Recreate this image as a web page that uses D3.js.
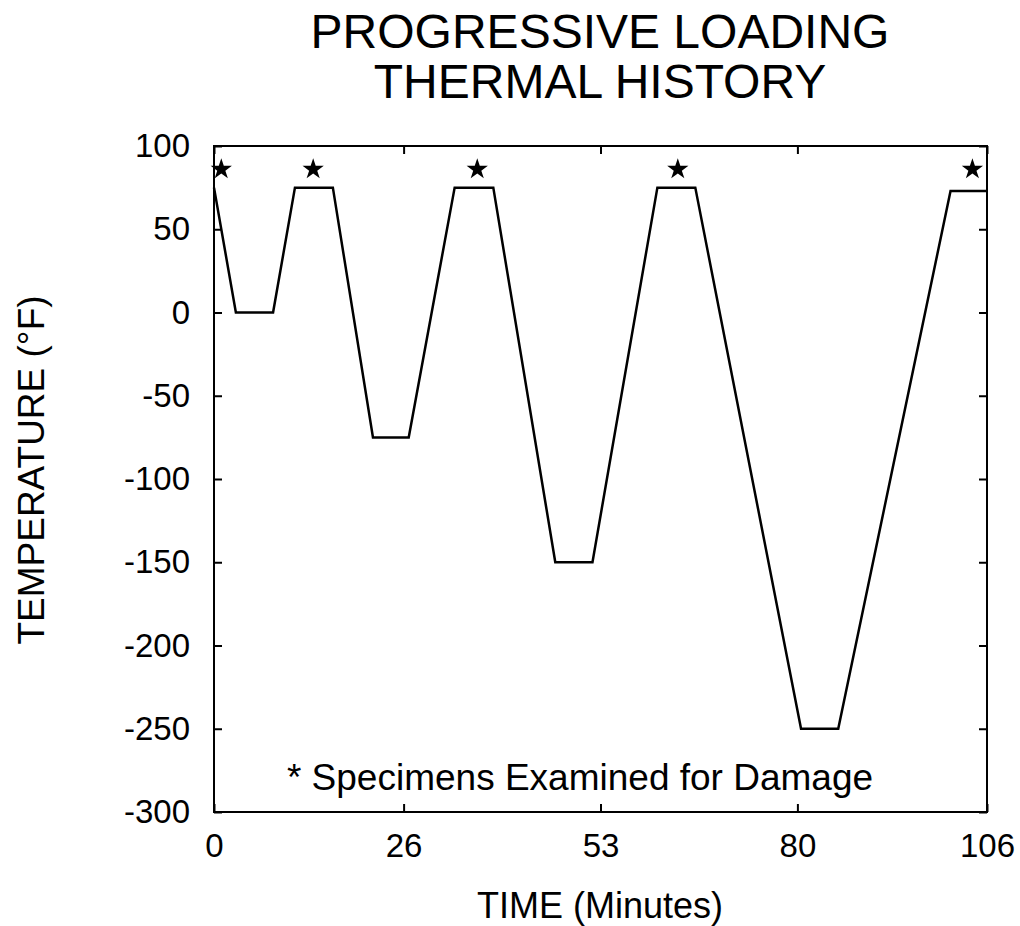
<!DOCTYPE html>
<html><head><meta charset="utf-8">
<script src="https://cdn.jsdelivr.net/npm/d3@7"></script>
<style>body{margin:0;background:#fff}svg{display:block}text{font-family:"Liberation Sans",Arial,Helvetica,sans-serif;fill:#000}</style>
</head><body>
<script>
const timeMin = [0, 3.0, 8.1, 11.1, 16.3, 21.8, 26.7, 33.0, 38.3, 46.8, 51.9, 60.8, 66.0, 80.5, 85.6, 101.0, 106];
const tempF   = [75, 0, 0, 75, 75, -75, -75, 75, 75, -150, -150, 75, 75, -250, -250, 73, 73];
const starTimes = [1, 13.6, 36.1, 63.6, 104];
const starTemp = [86, 86, 86, 86, 86];
const xTicks = [0, 26, 53, 80, 106];
const yTicks = [100, 50, 0, -50, -100, -150, -200, -250, -300];
const titleLines = ["PROGRESSIVE LOADING", "THERMAL HISTORY"];

const W = 1020, H = 926;
const m = {left: 214, right: 987, top: 146, bottom: 812};
const svg = d3.select("body").append("svg").attr("width", W).attr("height", H);
const x = d3.scaleLinear().domain([0, 106]).range([m.left, m.right]);
const y = d3.scaleLinear().domain([-300, 100]).range([m.bottom, m.top]);

// frame
svg.append("rect").attr("x", m.left).attr("y", m.top)
  .attr("width", m.right - m.left).attr("height", m.bottom - m.top)
  .attr("fill", "none").attr("stroke", "#000").attr("stroke-width", 2);

const fs = 33;
const fmt = d => String(d);
const yAxis = svg.append("g").attr("transform", `translate(${m.left},0)`)
  .call(d3.axisLeft(y).tickValues(yTicks).tickSize(-8).tickPadding(24).tickFormat(fmt));
const yAxisR = svg.append("g").attr("transform", `translate(${m.right},0)`)
  .call(d3.axisRight(y).tickValues(yTicks).tickSize(-8).tickFormat(""));
const xAxis = svg.append("g").attr("transform", `translate(0,${m.bottom})`)
  .call(d3.axisBottom(x).tickValues(xTicks).tickSize(-8).tickPadding(22).tickFormat(fmt));
const xAxisT = svg.append("g").attr("transform", `translate(0,${m.top})`)
  .call(d3.axisTop(x).tickValues(xTicks).tickSize(-8).tickFormat(""));
[yAxis, yAxisR, xAxis, xAxisT].forEach(g => {
  g.select(".domain").remove();
  g.selectAll(".tick line").attr("stroke", "#000").attr("stroke-width", 2);
  g.selectAll("text").style("font-size", fs + "px").attr("fill", "#000")
    .style("font-family", '"Liberation Sans",Arial,sans-serif');
});

// line
const line = d3.line().x((d, i) => x(timeMin[i])).y((d, i) => y(tempF[i]));
svg.append("path").datum(tempF).attr("d", line)
  .attr("fill", "none").attr("stroke", "#000").attr("stroke-width", 2.5).attr("stroke-linejoin", "miter");

// stars
svg.selectAll(".star").data(starTimes).enter().append("path")
  .attr("class", "star")
  .attr("d", d3.symbol().type(d3.symbolStar).size(140))
  .attr("transform", (d, i) => `translate(${x(d)},${y(starTemp[i])})`)
  .attr("fill", "#000");

// titles
svg.selectAll(".title").data(titleLines).enter().append("text")
  .attr("x", 600).attr("y", (d, i) => 48 + i * 50)
  .attr("text-anchor", "middle").style("font-size", "48px").text(d => d);

// axis labels
svg.append("text").attr("x", 600).attr("y", 918).attr("text-anchor", "middle")
  .style("font-size", "36px").text("TIME (Minutes)");
svg.append("text").attr("transform", "translate(44,470) rotate(-90)").attr("text-anchor", "middle")
  .style("font-size", "37px").text("TEMPERATURE (°F)");

// annotation
svg.append("text").attr("x", 580).attr("y", 790).attr("text-anchor", "middle")
  .style("font-size", "37px").text("* Specimens Examined for Damage");
</script>
</body></html>
